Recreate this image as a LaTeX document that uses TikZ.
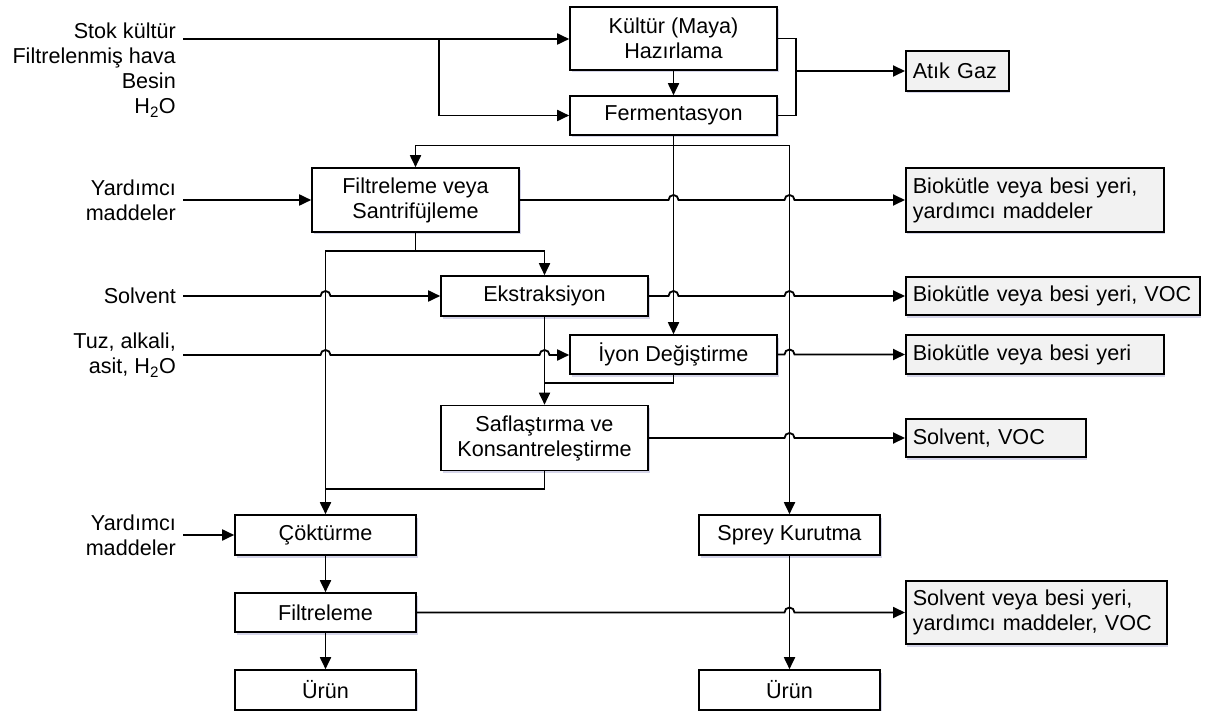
\documentclass[tikz,border=0pt]{standalone}
\usepackage{fontspec}
\setmainfont{Liberation Sans}
\usetikzlibrary{arrows.meta, positioning, calc, shadows}

\begin{document}
\begin{tikzpicture}[x=1pt, y=-1pt,
    font=\fontsize{21.6}{25}\selectfont,
    proc/.style={draw, line width=1.6pt, fill=white, align=center, inner sep=0pt,
      drop shadow={shadow xshift=1.5pt, shadow yshift=-2.5pt, fill=blue!30!gray, opacity=.25}},
    waste/.style={draw, line width=1.6pt, fill=black!5, align=left, anchor=west,
      inner xsep=7pt, inner ysep=0pt, text width=#1,
      drop shadow={shadow xshift=1.5pt, shadow yshift=-2.5pt, fill=blue!30!gray, opacity=.25}},
    input/.style={anchor=east, align=right, inner sep=0pt},
    flow/.style={line width=1.8pt, -{Triangle[length=12pt,width=11pt]}},
    link/.style={line width=1.8pt},
    hop/.style 2 args={insert path={-- ($(#1 -| #2)+(-5pt,0)$) arc[start angle=180, end angle=0, radius=5pt]}},
  ]
\useasboundingbox (0,0) rectangle (1207,711);

% process boxes
\node[proc, minimum width=207pt, minimum height=63pt] (kult) at (673.5,38.5) {Kültür (Maya)\\Hazırlama};
\node[proc, minimum width=207pt, minimum height=39pt] (ferm) at (673.5,115.5) {Fermentasyon};
\node[proc, minimum width=207pt, minimum height=64pt] (filt) at (415.5,200) {Filtreleme veya\\Santrifüjleme};
\node[proc, minimum width=207pt, minimum height=40pt] (ekst) at (544.5,296) {Ekstraksiyon};
\node[proc, minimum width=207pt, minimum height=39pt] (iyon) at (673.5,354.5) {İyon Değiştirme};
\node[proc, minimum width=207pt, minimum height=65pt] (saf) at (544.5,438) {Saflaştırma ve\\Konsantreleştirme};
\node[proc, minimum width=181pt, minimum height=40pt] (cokt) at (325.5,535) {Çöktürme};
\node[proc, minimum width=181pt, minimum height=39pt] (filtr) at (325.5,612.5) {Filtreleme};
\node[proc, minimum width=181pt, minimum height=40pt] (urunA) at (325.5,690) {Ürün};
\node[proc, minimum width=181pt, minimum height=40pt] (sprey) at (789.5,535) {Sprey Kurutma};
\node[proc, minimum width=181pt, minimum height=40pt] (urunB) at (789.5,690) {Ürün};

% waste streams
\node[waste=89pt, minimum height=40pt] (atik) at (905,71) {Atık Gaz};
\node[waste=244pt, minimum height=64pt] (bioA) at (905,200) {Biokütle veya besi yeri,\\yardımcı maddeler};
\node[waste=280pt, minimum height=38pt] (bioB) at (905,296) {Biokütle veya besi yeri, VOC};
\node[waste=244pt, minimum height=39pt] (bioC) at (905,354.5) {Biokütle veya besi yeri};
\node[waste=166pt, minimum height=38pt] (solvA) at (905,438) {Solvent, VOC};
\node[waste=247pt, minimum height=63pt] (solvB) at (905,612.5) {Solvent veya besi yeri,\\yardımcı maddeler, VOC};

% inputs
\node[input] (inTop) at (176,70) {Stok kültür\\Filtrelenmiş hava\\Besin\\H\textsubscript{2}O};
\node[input] (inYardA) at (176,200) {Yardımcı\\maddeler};
\node[input] (inSolv) at (176,296) {Solvent};
\node[input] (inTuz) at (176,355) {Tuz, alkali,\\asit, H\textsubscript{2}O};
\node[input] (inYardB) at (176,535) {Yardımcı\\maddeler};

% junctions
\coordinate (stok) at (183,39);
\coordinate (split0) at (439,39);
\coordinate (gasJ) at (796,71);
\coordinate (fsplit) at (673.5,145.5);
\coordinate (ssplit) at (415.5,251);
\coordinate (ijoin) at (544.5,383);
\coordinate (sjoin) at (325.5,489);

% top
\draw[flow] (stok) -- (stok -| kult.west);
\draw[flow] (split0) |- (ferm.west);
\draw[flow] (kult.south) -- (ferm.north);
\draw[link] (kult.east) -| (gasJ) |- (ferm.east);
\draw[flow] (gasJ) -- (atik.west);

% branches
\draw[flow] (ferm.south) -- (iyon.north);
\draw[flow] (fsplit) -| (filt.north);
\draw[flow] (fsplit) -| (sprey.north);
\draw[link] (filt.south) -- (ssplit);
\draw[flow] (ssplit) -| (ekst.north);
\draw[flow] (ssplit) -| (cokt.north);
\draw[flow] (ekst.south) -- (saf.north);
\draw[link] (iyon.south) |- (ijoin);
\draw[link] (saf.south) |- (sjoin);
\draw[flow] (cokt.south) -- (filtr.north);
\draw[flow] (filtr.south) -- (urunA.north);
\draw[flow] (sprey.south) -- (urunB.north);

% inputs
\draw[flow] ($(inYardA.east)+(7pt,0)$) -- (filt.west);
\draw[flow] ($(inSolv.east)+(7pt,0)$) [hop={inSolv.east}{cokt.north}] -- (ekst.west);
\draw[flow] ($(inTuz.east)+(7pt,0)$) [hop={inTuz.east}{cokt.north}] [hop={inTuz.east}{saf.north}] -- (inTuz.east -| iyon.west);
\draw[flow] ($(inYardB.east)+(7pt,0)$) -- (cokt.west);

% outputs
\draw[flow] (filt.east) [hop={filt.east}{ferm.south}] [hop={filt.east}{sprey.north}] -- (filt.east -| bioA.west);
\draw[flow] (ekst.east) [hop={ekst.east}{ferm.south}] [hop={ekst.east}{sprey.north}] -- (ekst.east -| bioB.west);
\draw[flow] (iyon.east) [hop={iyon.east}{sprey.north}] -- (iyon.east -| bioC.west);
\draw[flow] (saf.east) [hop={saf.east}{sprey.north}] -- (saf.east -| solvA.west);
\draw[flow] (filtr.east) [hop={filtr.east}{sprey.north}] -- (filtr.east -| solvB.west);
\end{tikzpicture}
\end{document}
